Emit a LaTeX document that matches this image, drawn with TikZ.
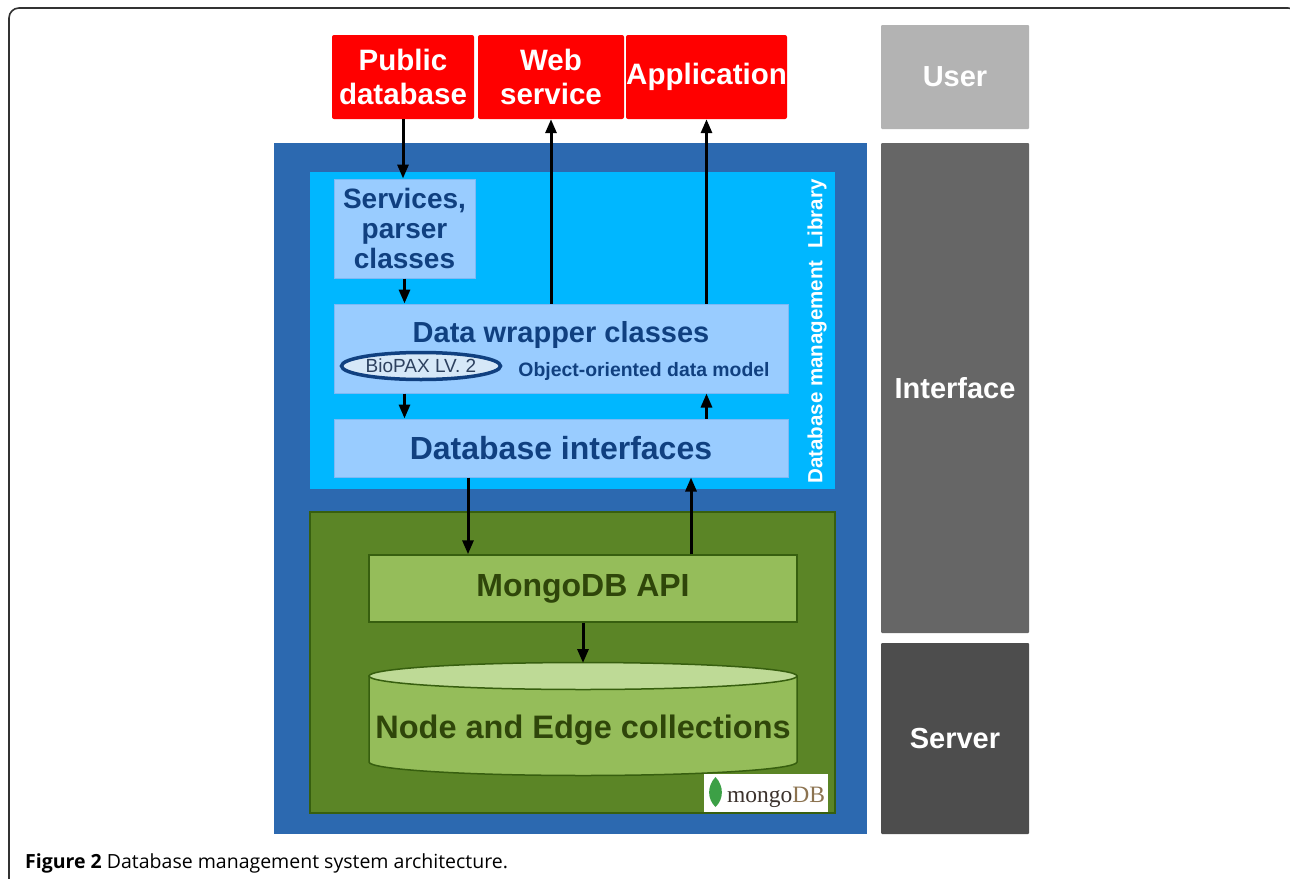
\documentclass[tikz,border=0pt]{standalone}
\usepackage{fontspec}
\setmainfont{Liberation Sans}
\newfontfamily\capfont{Open Sans}
\newfontfamily\logofont{Liberation Serif}
\usetikzlibrary{arrows.meta,shapes.geometric}
\definecolor{userred}{RGB}{255,0,0}
\definecolor{outerblue}{RGB}{44,105,176}
\definecolor{libcyan}{RGB}{0,183,255}
\definecolor{boxblue}{RGB}{153,204,255}
\definecolor{boxline}{RGB}{125,185,245}
\definecolor{textblue}{RGB}{16,64,128}
\definecolor{biofill}{RGB}{214,232,248}
\definecolor{biotext}{RGB}{45,65,95}
\definecolor{mongogreen}{RGB}{91,133,38}
\definecolor{apigreen}{RGB}{149,189,90}
\definecolor{cyltop}{RGB}{190,218,150}
\definecolor{linegreen}{RGB}{55,95,15}
\definecolor{textgreen}{RGB}{47,70,10}
\definecolor{usergray}{RGB}{179,179,179}
\definecolor{ifacegray}{RGB}{102,102,102}
\definecolor{servergray}{RGB}{77,77,77}
\definecolor{leafgreen}{RGB}{60,160,70}
\definecolor{mongogray}{RGB}{60,50,45}
\definecolor{mongobrown}{RGB}{140,115,80}
\definecolor{framegray}{RGB}{50,50,50}

\begin{document}
\begin{tikzpicture}
  [
  x=1pt, y=1pt, font=\bfseries,
  redbox/.style={rectangle, fill=userred, text=white, rounded corners=2pt, inner sep=0pt, minimum height=84pt, align=center, font=\fontsize{29.5}{34}\selectfont\bfseries},
  layer/.style={rectangle, inner sep=0pt, minimum width=148pt, text=white, rounded corners=1pt, font=\fontsize{29}{34}\selectfont\bfseries},
  panel/.style={rectangle, inner sep=0pt},
  classbox/.style={rectangle, fill=boxblue, draw=boxline, line width=1pt, inner sep=0pt, text=textblue, align=center},
  mongobox/.style={rectangle, fill=apigreen, draw=linegreen, line width=1.5pt, inner sep=0pt, text=textgreen},
  arr/.style={line width=3pt, -{Triangle[length=14pt, width=11pt]}}
  ]
\useasboundingbox (0,0) rectangle (1290,-878);
\draw[framegray, line width=1.6pt, rounded corners=10pt] (9,-890) rectangle (1298,-8);

\foreach \n/\x/\w/\t in {pubdb/403/142/{Public\\database}, websvc/551/146/{Web\\service}, app/706.5/161/Application} {
  \node[redbox, minimum width=\w] (\n) at (\x,-77) {\t};
}

\foreach \n/\y/\h/\c/\t in {user/77/104/usergray/User, iface/388/490/ifacegray/Interface, server/738.5/191/servergray/Server} {
  \node[layer, fill=\c, minimum height=\h] (\n) at (955,-\y) {\t};
}

\node[panel, fill=outerblue, minimum width=593, minimum height=691] (dbms) at (570.5,-488.5) {};
\node[panel, fill=libcyan, minimum width=525, minimum height=317] (lib) at (572.5,-330.5) {};
\node[panel, fill=mongogreen, draw=linegreen, line width=1.5pt, minimum width=525, minimum height=301] (mongo) at (572.5,-662.5) {};

\node[rotate=90, text=white, font=\fontsize{20.5}{20.5}\selectfont\bfseries] (libname) at (817,-331.5) {Database management\ \ Library};

\node[classbox, minimum width=141, minimum height=99, font=\fontsize{28}{30}\selectfont\bfseries] (services) at (404.5,-228.5) {Services,\\parser\\classes};
\node[classbox, minimum width=454, minimum height=89] (wrapper) at (561,-348.5) {};
\node[text=textblue, font=\fontsize{29}{29}\selectfont\bfseries] (wraptitle) at (561,-335) {Data wrapper classes};
\node[ellipse, draw=textblue, line width=3.5pt, fill=biofill, inner sep=0pt, minimum width=159, minimum height=27, text=biotext, font=\fontsize{19}{19}\selectfont] (biopax) at (421,-366) {BioPAX LV. 2};
\node[text=textblue, font=\fontsize{19.4}{19.4}\selectfont\bfseries] (model) at (644,-371) {Object-oriented data model};
\node[classbox, minimum width=454, minimum height=58, font=\fontsize{32}{32}\selectfont\bfseries] (dbif) at (561,-448) {Database interfaces};

\node[mongobox, minimum width=428, minimum height=67, font=\fontsize{32}{32}\selectfont\bfseries] (api) at (583,-588.5) {MongoDB API};

\draw[fill=apigreen, draw=linegreen, line width=1.5pt] (369,-676) -- (369,-762) arc[start angle=180, end angle=360, x radius=214, y radius=13.5] -- (797,-676) -- cycle;
\draw[fill=cyltop, draw=linegreen, line width=1.5pt] (583,-676) ellipse[x radius=214, y radius=13.5];
\coordinate (cyltop) at (583,-663);
\node[text=textgreen, font=\fontsize{32.5}{32.5}\selectfont\bfseries] (coll) at (583,-730) {Node and Edge collections};

\node[panel, fill=white, minimum width=124, minimum height=38] (logo) at (766,-793) {};
\fill[leafgreen] (715.5,-777) .. controls (707,-786) and (707,-799) .. (715.5,-807) .. controls (724,-799) and (724,-786) .. (715.5,-777);
\node[anchor=base west, inner sep=0pt, font=\logofont\fontsize{23.5}{23.5}\selectfont] (logotext) at (727,-802) {\textcolor{mongogray}{mongo}\textcolor{mongobrown}{DB}};

\coordinate (down) at (468,0);
\coordinate (up) at (691,0);
\draw[arr] (pubdb.south) -- (pubdb.south |- services.north);
\draw[arr] (wrapper.north -| websvc) -- (websvc.south);
\draw[arr] (wrapper.north -| app) -- (app.south);
\draw[arr] (services.south) -- (services.south |- wrapper.north);
\draw[arr] (wrapper.south -| services) -- (dbif.north -| services);
\draw[arr] (dbif.north -| app) -- (wrapper.south -| app);
\draw[arr] (dbif.south -| down) -- (api.north -| down);
\draw[arr] (api.north -| up) -- (dbif.south -| up);
\draw[arr] (api.south) -- (cyltop);

\node[anchor=base west, inner sep=0pt, font=\capfont\fontsize{19.5}{19.5}\selectfont] (caption) at (25,-868) {\textbf{Figure 2} Database management system architecture.};
\end{tikzpicture}
\end{document}
